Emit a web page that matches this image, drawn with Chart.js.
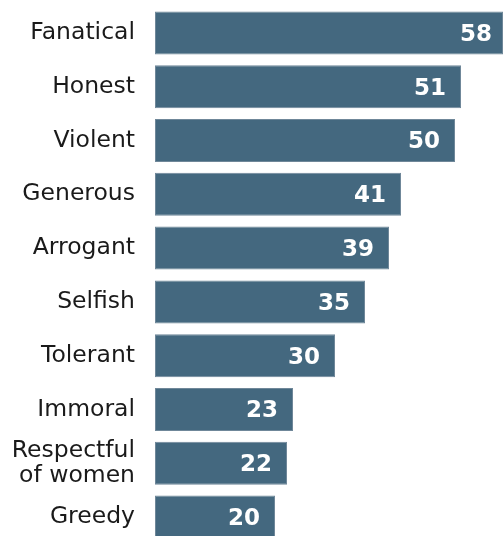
<!DOCTYPE html>
<html>
<head>
<meta charset="utf-8">
<script src="https://cdn.jsdelivr.net/npm/chart.js@4/dist/chart.umd.min.js"></script>
<style>
html,body{margin:0;padding:0;background:#fff;overflow:hidden;}
#wrap{position:absolute;left:0;top:0;width:503px;height:544px;}
</style>
</head>
<body>
<div id="wrap"><canvas id="c"></canvas></div>
<script>
const categories = ["Fanatical","Honest","Violent","Generous","Arrogant","Selfish","Tolerant","Immoral",["Respectful","of women"],"Greedy"];
const values = [58,51,50,41,39,35,30,23,22,20];

const valueLabels = {
  id:'valueLabels',
  afterDatasetsDraw(chart){
    const ctx = chart.ctx;
    const meta = chart.getDatasetMeta(0);
    const ca = chart.chartArea;
    ctx.save();
    ctx.font = 'bold 23px "DejaVu Sans"';
    ctx.fillStyle = '#ffffff';
    ctx.textAlign = 'right';
    ctx.textBaseline = 'middle';
    meta.data.forEach((bar,i)=>{
      const right = bar.x >= ca.right - 1 ? ca.right - 11 : bar.x - 15;
      ctx.fillText(String(values[i]), right, bar.y + 2);
    });
    ctx.restore();
  }
};

new Chart(document.getElementById('c'), {
  type:'bar',
  data:{labels:categories, datasets:[{data:values, backgroundColor:'#44687f', borderColor:'#6f8799', borderWidth:1, borderSkipped:false, barPercentage:0.8, categoryPercentage:1}]},
  options:{
    indexAxis:'y',
    responsive:true, maintainAspectRatio:false, animation:false,
    layout:{padding:{top:6,bottom:0,left:0,right:0}},
    plugins:{legend:{display:false}, tooltip:{enabled:false}},
    scales:{
      x:{display:false, min:0, max:58},
      y:{
        grid:{display:false, drawTicks:false}, border:{display:false},
        ticks:{autoSkip:false, padding:20, color:'#1a1a1a', font:{family:'"DejaVu Sans"', size:23.5, lineHeight:1.08}},
        afterFit(s){ s.width = 155; s.paddingTop = 0; s.paddingBottom = 0; }
      }
    }
  },
  plugins:[valueLabels]
});
</script>
</body>
</html>
